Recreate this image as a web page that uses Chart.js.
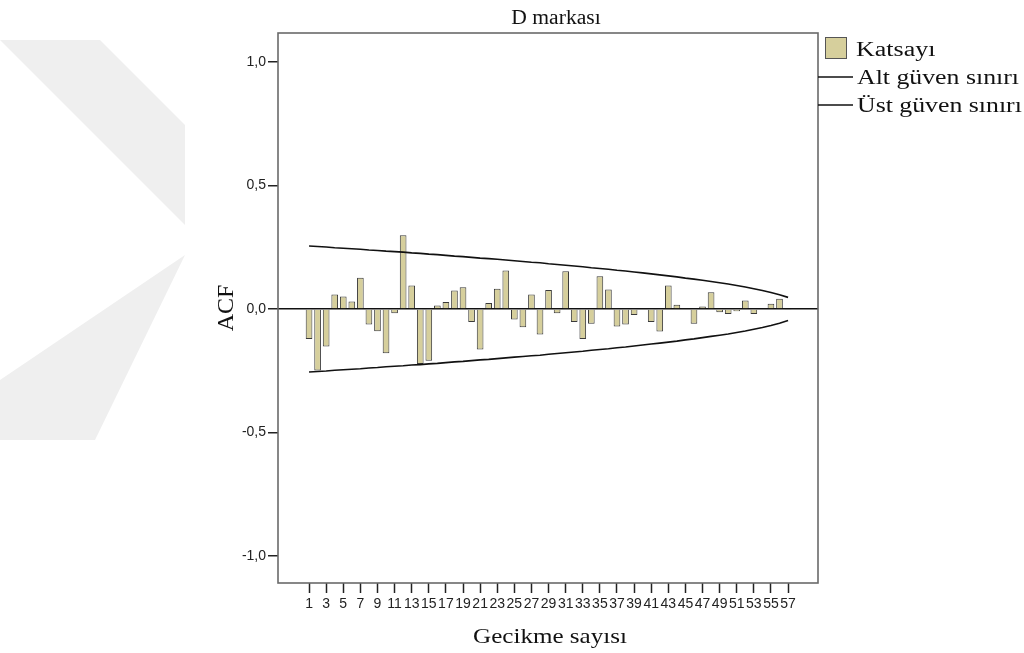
<!DOCTYPE html>
<html>
<head>
<meta charset="utf-8">
<script src="https://cdn.jsdelivr.net/npm/chart.js@4.4.1/dist/chart.umd.min.js"></script>
<style>
  html, body { margin: 0; padding: 0; background: #ffffff; }
  #wrap { width: 1024px; height: 653px; position: relative; }
</style>
</head>
<body>
<div id="wrap"><canvas id="acf" width="1024" height="653"></canvas></div>
<script>
// Lags 1..57
const lags = [1,2,3,4,5,6,7,8,9,10,11,12,13,14,15,16,17,18,19,20,21,22,23,24,25,26,27,28,29,30,
  31,32,33,34,35,36,37,38,39,40,41,42,43,44,45,46,47,48,49,50,51,52,53,54,55,56,57];

// Autocorrelation coefficients (Katsayı)
const coefficients = [
  -0.121, -0.249, -0.152, 0.059, 0.051, 0.030, 0.126, -0.063, -0.090, -0.179,
  -0.017, 0.298, 0.095, -0.223, -0.209, 0.014, 0.028, 0.075, 0.088, -0.053,
  -0.164, 0.024, 0.082, 0.156, -0.043, -0.074, 0.059, -0.103, 0.077, -0.017,
  0.153, -0.053, -0.121, -0.060, 0.133, 0.079, -0.071, -0.063, -0.024, -0.003,
  -0.053, -0.091, 0.095, 0.017, 0.002, -0.060, 0.010, 0.068, -0.013, -0.020,
  -0.009, 0.034, -0.020, -0.003, 0.021, 0.041, -0.004
];

// Upper confidence limit (Üst güven sınırı)
const upperLimit = [
  0.255, 0.253, 0.251, 0.248, 0.246, 0.244, 0.242, 0.239, 0.237, 0.234,
  0.232, 0.230, 0.227, 0.225, 0.222, 0.220, 0.217, 0.214, 0.212, 0.209,
  0.206, 0.204, 0.201, 0.198, 0.195, 0.192, 0.189, 0.187, 0.183, 0.180,
  0.177, 0.174, 0.171, 0.167, 0.164, 0.161, 0.157, 0.154, 0.150, 0.146,
  0.142, 0.138, 0.134, 0.130, 0.125, 0.121, 0.116, 0.111, 0.106, 0.101,
  0.095, 0.089, 0.082, 0.075, 0.067, 0.058, 0.047
];

// Lower confidence limit (Alt güven sınırı)
const lowerLimit = [
  -0.255, -0.253, -0.251, -0.248, -0.246, -0.244, -0.242, -0.239, -0.237, -0.234,
  -0.232, -0.230, -0.227, -0.225, -0.222, -0.220, -0.217, -0.214, -0.212, -0.209,
  -0.206, -0.204, -0.201, -0.198, -0.195, -0.192, -0.189, -0.187, -0.183, -0.180,
  -0.177, -0.174, -0.171, -0.167, -0.164, -0.161, -0.157, -0.154, -0.150, -0.146,
  -0.142, -0.138, -0.134, -0.130, -0.125, -0.121, -0.116, -0.111, -0.106, -0.101,
  -0.095, -0.089, -0.082, -0.075, -0.067, -0.058, -0.047
];

const xTickLabels = [1,3,5,7,9,11,13,15,17,19,21,23,25,27,29,31,33,35,37,39,41,43,45,47,49,51,53,55,57];
const yTickValues = [-1, -0.5, 0, 0.5, 1];

const chartTitle = 'D markası';
const xTitle = 'Gecikme sayısı';
const yTitle = 'ACF';
const seriesNames = ['Katsayı', 'Alt güven sınırı', 'Üst güven sınırı'];

const barFill = '#d6cf9c';
const serif = '"Liberation Serif", "Times New Roman", serif';
const sans = '"Liberation Sans", Arial, sans-serif';

const toPoints = (vals) => lags.map((l, i) => ({ x: l, y: vals[i] }));

// Background mark, frame, titles and legend
const decorations = {
  id: 'decorations',
  beforeDraw(chart) {
    const ctx = chart.ctx;
    ctx.save();
    ctx.fillStyle = '#efefef';
    ctx.beginPath();
    ctx.moveTo(0, 40); ctx.lineTo(100, 40); ctx.lineTo(185, 125); ctx.lineTo(185, 225);
    ctx.closePath(); ctx.fill();
    ctx.beginPath();
    ctx.moveTo(185, 255); ctx.lineTo(95, 440); ctx.lineTo(0, 440); ctx.lineTo(0, 380);
    ctx.closePath(); ctx.fill();
    ctx.restore();
  },
  afterDraw(chart) {
    const ctx = chart.ctx;
    const a = chart.chartArea;
    ctx.save();
    // frame
    ctx.strokeStyle = '#6a6a6a';
    ctx.lineWidth = 1.6;
    ctx.strokeRect(a.left, a.top, a.right - a.left, a.bottom - a.top);

    const stretched = (text, x, y, size, align, sx) => {
      ctx.save();
      ctx.font = size + 'px ' + serif;
      ctx.fillStyle = '#111';
      ctx.textBaseline = 'alphabetic';
      ctx.translate(x, y);
      ctx.scale(sx, 1);
      ctx.textAlign = align;
      ctx.fillText(text, 0, 0);
      ctx.restore();
    };

    // title
    stretched(chartTitle, (a.left + a.right) / 2 + 8, 24, 20, 'center', 1.08);
    // x axis title
    stretched(xTitle, (a.left + a.right) / 2 + 2, 643, 22, 'center', 1.14);
    // y axis title (rotated)
    ctx.save();
    ctx.translate(233, (a.top + a.bottom) / 2);
    ctx.rotate(-Math.PI / 2);
    ctx.font = '24px ' + serif;
    ctx.fillStyle = '#111';
    ctx.textAlign = 'center';
    ctx.fillText(yTitle, 0, 0);
    ctx.restore();

    // legend
    const lx = a.right + 6;
    ctx.fillStyle = barFill;
    ctx.strokeStyle = '#555';
    ctx.lineWidth = 1;
    ctx.fillRect(lx + 1, 37, 22, 22);
    ctx.strokeRect(lx + 1.5, 37.5, 21, 21);
    stretched(seriesNames[0], lx + 32, 56, 20, 'left', 1.3);
    ctx.strokeStyle = '#111';
    ctx.lineWidth = 1.5;
    ctx.beginPath(); ctx.moveTo(a.right, 77); ctx.lineTo(a.right + 35, 77); ctx.stroke();
    stretched(seriesNames[1], lx + 33, 84, 20, 'left', 1.29);
    ctx.beginPath(); ctx.moveTo(a.right, 105); ctx.lineTo(a.right + 35, 105); ctx.stroke();
    stretched(seriesNames[2], lx + 33, 112, 20, 'left', 1.29);
    ctx.restore();
  }
};

new Chart(document.getElementById('acf'), {
  type: 'bar',
  data: {
    datasets: [
      {
        label: seriesNames[0],
        data: toPoints(coefficients),
        backgroundColor: barFill,
        borderColor: '#3a3a3a',
        borderWidth: 1,
        barPercentage: 0.78,
        categoryPercentage: 1.0,
        order: 2
      },
      {
        type: 'line',
        label: seriesNames[1],
        data: toPoints(lowerLimit),
        borderColor: '#111',
        borderWidth: 1.6,
        pointRadius: 0,
        fill: false,
        tension: 0,
        order: 1
      },
      {
        type: 'line',
        label: seriesNames[2],
        data: toPoints(upperLimit),
        borderColor: '#111',
        borderWidth: 1.6,
        pointRadius: 0,
        fill: false,
        tension: 0,
        order: 1
      }
    ]
  },
  options: {
    responsive: false,
    animation: false,
    devicePixelRatio: 1,
    layout: { padding: { left: 0, top: 33, right: 206, bottom: 0 } },
    plugins: {
      legend: { display: false },
      title: { display: false },
      tooltip: { enabled: false }
    },
    scales: {
      x: {
        type: 'linear',
        min: -2.63,
        max: 60.5,
        offset: false,
        afterBuildTicks(scale) { scale.ticks = xTickLabels.map(v => ({ value: v })); },
        afterFit(scale) { scale.height = 70; },
        ticks: {
          autoSkip: false,
          maxRotation: 0,
          minRotation: 0,
          padding: 3,
          color: '#222',
          font: { family: sans, size: 14 },
          callback: (v) => String(v)
        },
        grid: { offset: false, drawOnChartArea: false, drawTicks: true, tickLength: 10, tickColor: '#222', tickWidth: 1.5 },
        border: { display: false }
      },
      y: {
        type: 'linear',
        min: -1.109,
        max: 1.117,
        afterBuildTicks(scale) { scale.ticks = yTickValues.map(v => ({ value: v })); },
        afterFit(scale) { scale.width = 278; },
        ticks: {
          padding: 2,
          color: '#222',
          font: { family: sans, size: 14 },
          callback: (v) => v.toFixed(1).replace('.', ',')
        },
        grid: {
          drawOnChartArea: true,
          drawTicks: true,
          tickLength: 10,
          tickColor: '#222',
          tickWidth: 1.5,
          color: (c) => (c.tick && c.tick.value === 0 ? '#111' : 'rgba(0,0,0,0)'),
          lineWidth: 1.5
        },
        border: { display: false }
      }
    }
  },
  plugins: [decorations]
});
</script>
</body>
</html>
